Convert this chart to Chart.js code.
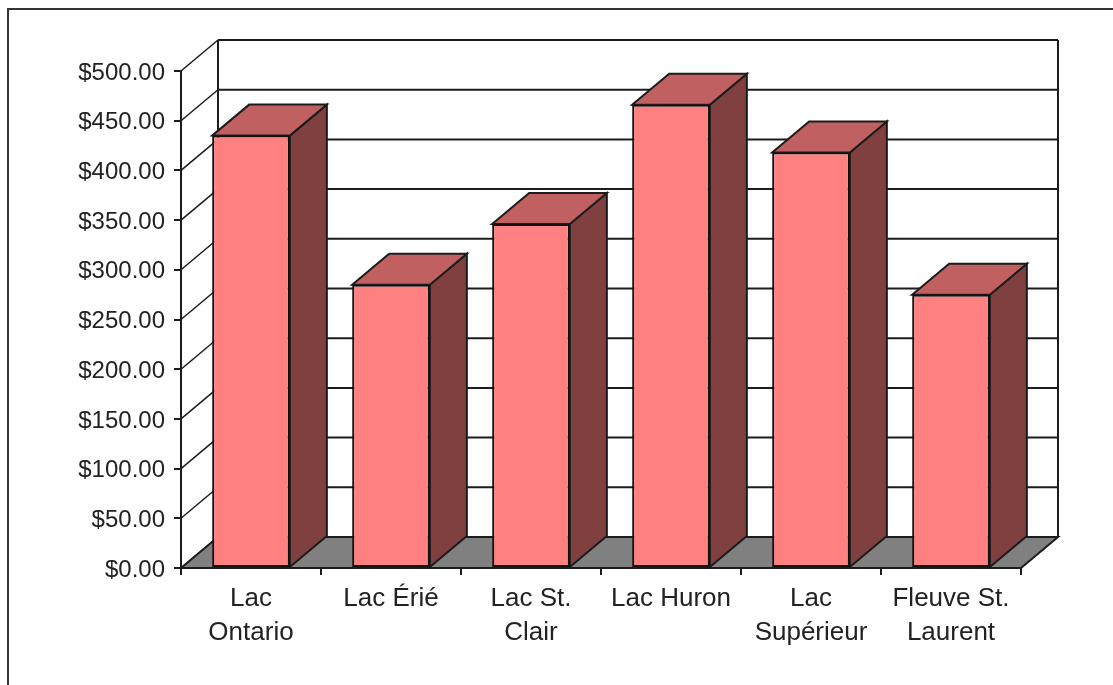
<!DOCTYPE html>
<html>
<head>
<meta charset="utf-8">
<title>Lacs</title>
<script src="https://cdn.jsdelivr.net/npm/chart.js@4/dist/chart.umd.min.js"></script>
<style>
    html, body { margin: 0; padding: 0; background: #fff; overflow: hidden; }
    canvas { display: block; }
</style>
</head>
<body>
<canvas id="barChart" width="1113" height="685"></canvas>
<script>
// Chart data
const lakeNames = [['Lac', 'Ontario'], 'Lac Érié', ['Lac St.', 'Clair'], 'Lac Huron', ['Lac', 'Supérieur'], ['Fleuve St.', 'Laurent']];
const lakeValues = [435, 285, 346, 466, 418, 275];
const valueTicks = [0, 50, 100, 150, 200, 250, 300, 350, 400, 450, 500];

// 3D look: how far the back wall sits from the front plane
const DEPTH_X = 37;
const DEPTH_Y = 31;
const LINE_COLOR = '#1c1c1c';

function polygon(ctx, points, fill) {
    ctx.beginPath();
    points.forEach((p, i) => i ? ctx.lineTo(p[0], p[1]) : ctx.moveTo(p[0], p[1]));
    ctx.closePath();
    if (fill) {
        ctx.fillStyle = fill;
        ctx.fill();
    }
    ctx.stroke();
}

// Page frame, only top and left edges show in the picture
const framePlugin = {
    id: 'frame',
    beforeDraw(chart) {
        const ctx = chart.ctx;
        ctx.save();
        ctx.strokeStyle = '#333';
        ctx.lineWidth = 2;
        ctx.beginPath();
        ctx.moveTo(8, chart.height);
        ctx.lineTo(8, 9);
        ctx.lineTo(chart.width, 9);
        ctx.stroke();
        ctx.restore();
    }
};

// Back wall, floor and the bar side/top faces. The front faces are the real bars.
const depthPlugin = {
    id: 'depth',
    beforeDatasetsDraw(chart) {
        const ctx = chart.ctx;
        const area = chart.chartArea;
        const yScale = chart.scales.y;
        const left = area.left;
        const right = area.right;
        const zeroY = yScale.getPixelForValue(0);
        const topY = yScale.getPixelForValue(valueTicks[valueTicks.length - 1]);

        ctx.save();
        ctx.strokeStyle = LINE_COLOR;
        ctx.lineJoin = 'miter';

        // gridlines on the left wall and the back wall
        valueTicks.forEach(v => {
            const y = yScale.getPixelForValue(v);
            ctx.lineWidth = 1.5;
            ctx.beginPath();
            ctx.moveTo(left, y);
            ctx.lineTo(left + DEPTH_X, y - DEPTH_Y);
            ctx.stroke();
            ctx.lineWidth = 2;
            ctx.beginPath();
            ctx.moveTo(left + DEPTH_X, y - DEPTH_Y);
            ctx.lineTo(right + DEPTH_X, y - DEPTH_Y);
            ctx.stroke();
        });

        // back wall uprights
        ctx.lineWidth = 2;
        ctx.beginPath();
        ctx.moveTo(left + DEPTH_X, zeroY - DEPTH_Y);
        ctx.lineTo(left + DEPTH_X, topY - DEPTH_Y);
        ctx.moveTo(right + DEPTH_X, zeroY - DEPTH_Y);
        ctx.lineTo(right + DEPTH_X, topY - DEPTH_Y);
        ctx.stroke();

        // floor
        polygon(ctx, [
            [left, zeroY],
            [left + DEPTH_X, zeroY - DEPTH_Y],
            [right + DEPTH_X, zeroY - DEPTH_Y],
            [right, zeroY]
        ], '#808080');

        // bar sides and tops
        chart.getDatasetMeta(0).data.forEach(bar => {
            const x0 = bar.x - bar.width / 2;
            const x1 = bar.x + bar.width / 2;
            polygon(ctx, [
                [x1, bar.base],
                [x1 + DEPTH_X, bar.base - DEPTH_Y],
                [x1 + DEPTH_X, bar.y - DEPTH_Y],
                [x1, bar.y]
            ], '#804040');
            polygon(ctx, [
                [x0, bar.y],
                [x0 + DEPTH_X, bar.y - DEPTH_Y],
                [x1 + DEPTH_X, bar.y - DEPTH_Y],
                [x1, bar.y]
            ], '#C06060');
        });
        ctx.restore();
    }
};

const fontFamily = '"Liberation Sans", Arial, sans-serif';

new Chart(document.getElementById('barChart'), {
    type: 'bar',
    data: {
        labels: lakeNames,
        datasets: [{
            data: lakeValues,
            backgroundColor: '#FF8080',
            borderColor: '#111',
            borderWidth: 2,
            borderSkipped: false,
            barPercentage: 0.555,
            categoryPercentage: 1
        }]
    },
    options: {
        responsive: false,
        animation: false,
        layout: { padding: { top: 71, right: 92, left: 0, bottom: 0 } },
        plugins: { legend: { display: false }, tooltip: { enabled: false } },
        scales: {
            x: {
                afterFit(scale) { scale.height = 117; },
                offset: true,
                border: { color: LINE_COLOR, width: 2, z: 1 },
                grid: { drawOnChartArea: false, drawTicks: true, tickLength: 7, color: LINE_COLOR, lineWidth: 2, z: 1 },
                ticks: {
                    color: '#222',
                    font: { family: fontFamily, size: 26, lineHeight: 1.31 },
                    padding: 7,
                    maxRotation: 0,
                    autoSkip: false
                }
            },
            y: {
                min: 0,
                max: 500,
                afterFit(scale) { scale.width = 181; },
                border: { color: LINE_COLOR, width: 2, z: 1 },
                grid: { drawOnChartArea: false, drawTicks: true, tickLength: 7, color: LINE_COLOR, lineWidth: 2, z: 1 },
                ticks: {
                    stepSize: 50,
                    color: '#222',
                    font: { family: fontFamily, size: 24 },
                    padding: 9,
                    labelOffset: 2,
                    callback: value => '$' + value.toFixed(2)
                }
            }
        }
    },
    plugins: [framePlugin, depthPlugin]
});
</script>
</body>
</html>
